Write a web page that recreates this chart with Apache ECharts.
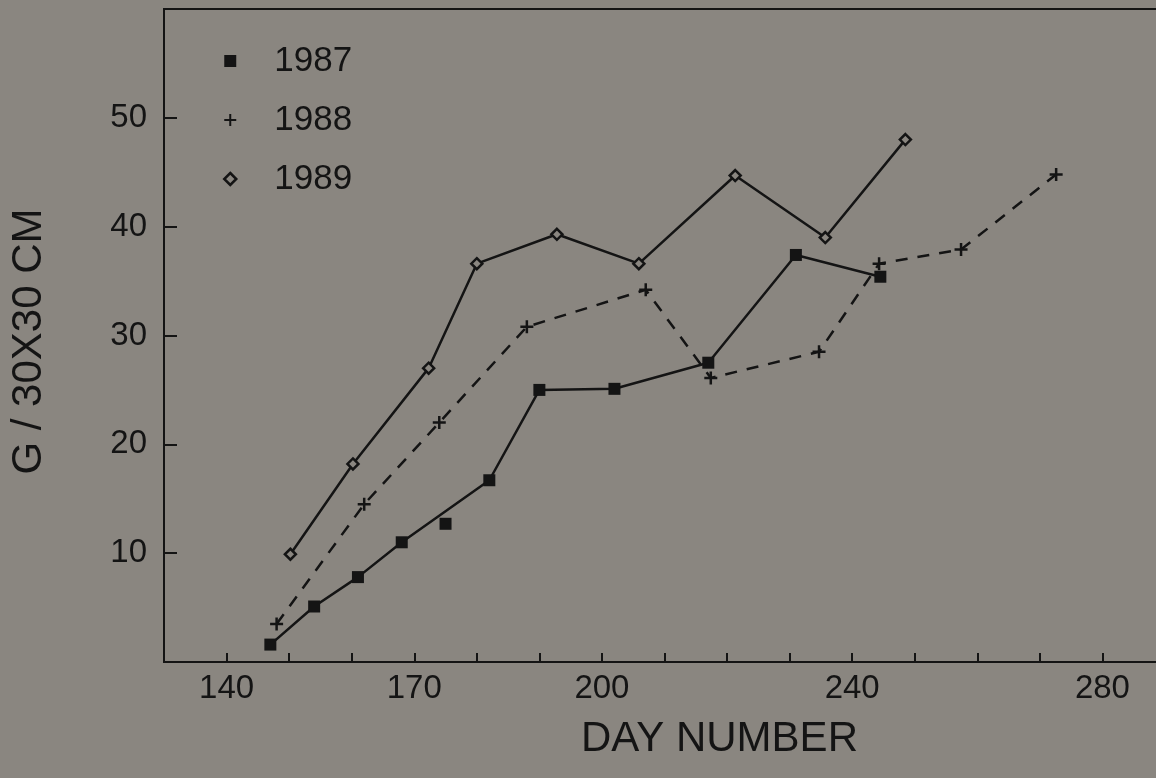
<!DOCTYPE html>
<html>
<head>
<meta charset="utf-8">
<script src="https://cdn.jsdelivr.net/npm/echarts@6/dist/echarts.min.js"></script>
<style>
html,body{margin:0;padding:0;background:#8a8680;}
#c{width:1156px;height:778px;}
</style>
</head>
<body>
<div id="c"></div>
<script>
// Data (day number, g / 30x30 cm)
const seriesNames = ['1987', '1988', '1989'];
const data1987 = [[147,1.6],[154,5.1],[161,7.8],[168,11.0],[182,16.7],[190,25.0],[202,25.1],[217,27.5],[231,37.4],[244.5,35.4]];
const data1987Extra = [[175,12.7]];
const data1988 = [[148,3.5],[162,14.5],[174,22.0],[188,30.8],[207,34.2],[217.4,26.1],[234.7,28.5],[244.3,36.6],[257.4,37.9],[272.6,44.8]];
const data1989 = [[150.2,9.9],[160.2,18.2],[172.3,27.0],[180,36.6],[192.8,39.3],[205.9,36.6],[221.3,44.7],[235.7,39.0],[248.5,48.0]];
const xTickLabels = [140, 170, 200, 240, 280];
const yTickLabels = [10, 20, 30, 40, 50];

const ink = '#141414';
const bg = '#8a8680';
const font = '"Liberation Sans", Arial, Helvetica, sans-serif';
const plusPath = 'path://M0,-10 L0,10 M-10,0 L10,0';

const chart = echarts.init(document.getElementById('c'), null, {renderer: 'canvas'});
chart.setOption({
  backgroundColor: bg,
  animation: false,
  textStyle: {fontFamily: font, color: ink},
  grid: {left: 164, top: 9, bottom: 116, right: -9, show: true, borderColor: ink, borderWidth: 2,
    backgroundColor: 'transparent', containLabel: false, outerBoundsMode: 'none'},
  legend: {
    orient: 'vertical', left: 218, top: 38, itemGap: 23, itemWidth: 12, itemHeight: 12,
    textStyle: {fontSize: 35, fontFamily: font, color: ink, padding: [0,0,0,33], lineHeight: 36},
    data: [
      {name: '1987', icon: 'rect', itemStyle: {color: ink, borderWidth: 0}},
      {name: '1988', icon: plusPath, itemStyle: {color: 'transparent', borderColor: ink, borderWidth: 2}},
      {name: '1989', icon: 'diamond', itemStyle: {color: bg, borderColor: ink, borderWidth: 2.5}}
    ]
  },
  xAxis: {
    type: 'value', min: 130, max: 290, interval: 10,
    name: 'DAY NUMBER', nameLocation: 'middle', nameGap: 56,
    nameTextStyle: {fontSize: 42, color: ink, fontFamily: font, padding: [0, 0, 0, 110]},
    axisLine: {show: true, lineStyle: {color: ink, width: 2}},
    axisTick: {show: true, inside: true, length: 9, lineStyle: {color: ink, width: 2}},
    axisLabel: {fontSize: 33, color: ink, margin: 10, fontFamily: font,
      formatter: v => xTickLabels.indexOf(v) >= 0 ? String(v) : ''},
    splitLine: {show: false}
  },
  yAxis: {
    type: 'value', min: 0, max: 60, interval: 10,
    name: 'G / 30X30 CM', nameLocation: 'middle', nameGap: 114,
    nameTextStyle: {fontSize: 42, color: ink, fontFamily: font, padding: [0, 12, 0, 0]},
    axisLine: {show: true, lineStyle: {color: ink, width: 2}},
    axisTick: {show: true, inside: true, length: 13, lineStyle: {color: ink, width: 2}},
    axisLabel: {fontSize: 33, color: ink, margin: 17, fontFamily: font,
      formatter: v => yTickLabels.indexOf(v) >= 0 ? String(v) : ''},
    splitLine: {show: false}
  },
  series: [
    {name: '1987', type: 'line', data: data1987, symbol: 'rect', symbolSize: 12,
      itemStyle: {color: ink}, lineStyle: {color: ink, width: 2.5}, z: 3},
    {name: '1987', type: 'scatter', data: data1987Extra, symbol: 'rect', symbolSize: 12,
      itemStyle: {color: ink, opacity: 1}, z: 3},
    {name: '1988', type: 'line', data: data1988, symbol: plusPath, symbolSize: 13,
      itemStyle: {color: 'transparent', borderColor: ink, borderWidth: 2.5},
      lineStyle: {color: ink, width: 2.5, type: [12, 10]}, z: 2},
    {name: '1989', type: 'line', data: data1989, symbol: 'diamond', symbolSize: 11,
      itemStyle: {color: bg, borderColor: ink, borderWidth: 2.5},
      lineStyle: {color: ink, width: 2.5}, z: 4}
  ]
});
</script>
</body>
</html>
